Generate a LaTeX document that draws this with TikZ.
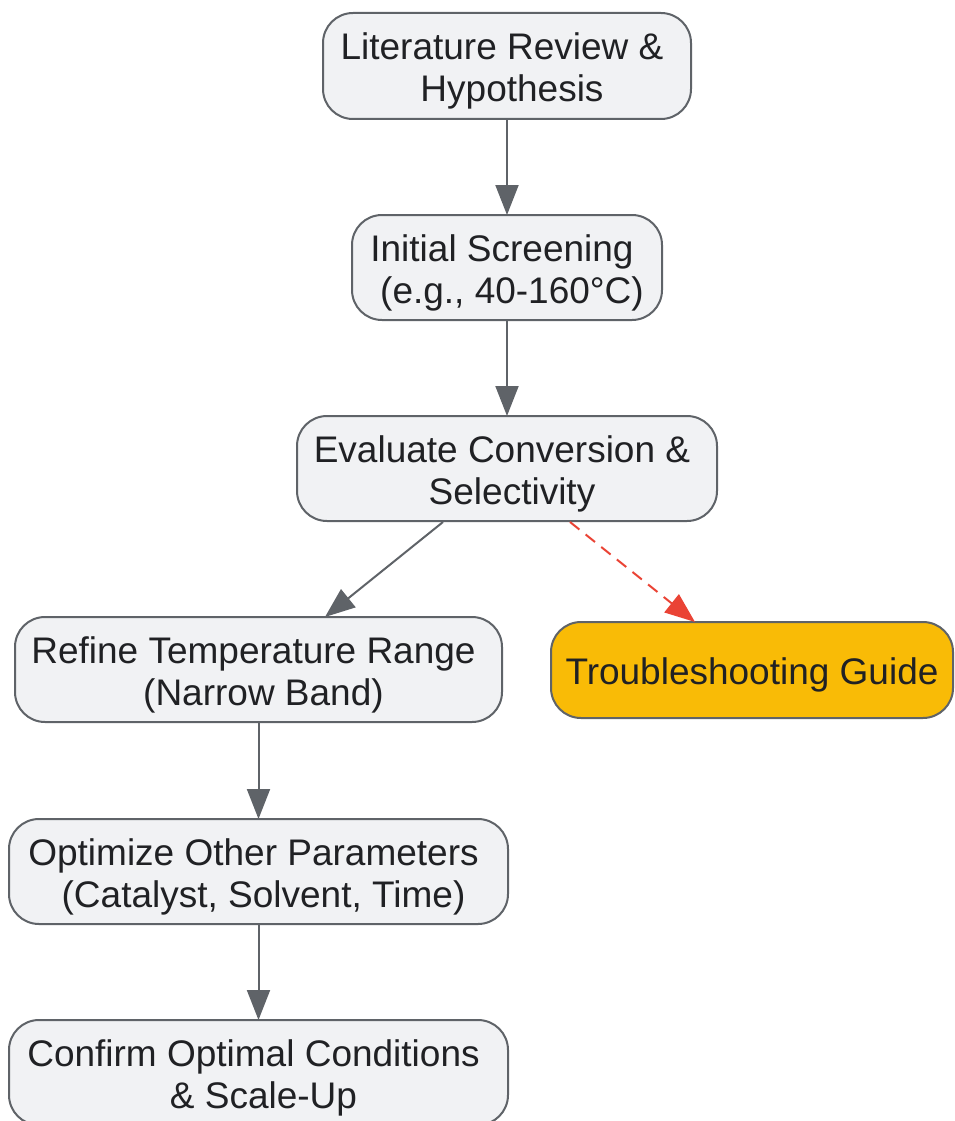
\documentclass[tikz,border=0pt]{standalone}
\usepackage{fontspec}
\setmainfont{Liberation Sans}
\usetikzlibrary{arrows.meta}
\definecolor{boxfill}{RGB}{241,242,244}
\definecolor{boxline}{RGB}{95,99,104}
\definecolor{txt}{RGB}{32,33,36}
\definecolor{warnfill}{RGB}{249,187,6}
\definecolor{warnred}{RGB}{234,67,53}
\newcommand{\tsp}{\hspace*{10pt}}
\begin{document}
\begin{tikzpicture}[x=1pt,y=-1pt,
  stepbox/.style={draw=boxline, fill=boxfill, line width=2pt, rounded corners=30pt,
    inner sep=0pt},
  warnbox/.style={stepbox, fill=warnfill},
  steptext/.style={label={[align=center, text=txt, inner sep=0pt, yshift=-5pt,
    font=\fontsize{37}{42}\selectfont]center:#1}},
  flow/.style={draw=boxline, line width=2pt, -{Triangle[length=30pt,width=23pt]}},
  warnflow/.style={draw=warnred, line width=2pt, dash pattern=on 12pt off 8pt,
    -{Triangle[length=30pt,width=23pt]}}
]
\useasboundingbox (0,0) rectangle (954,1121);
\node[stepbox, minimum width=368pt, minimum height=106pt,
  steptext={Literature Review \&\tsp\\\tsp Hypothesis}] (b1) at (507,66) {};
\node[stepbox, minimum width=310pt, minimum height=105pt,
  steptext={Initial Screening\tsp\\\tsp(e.g., 40-160°C)}] (b2) at (507,267.5) {};
\node[stepbox, minimum width=420pt, minimum height=105pt,
  steptext={Evaluate Conversion \&\tsp\\\tsp Selectivity}] (b3) at (507,468.5) {};
\node[stepbox, minimum width=487pt, minimum height=105pt,
  steptext={Refine Temperature Range\tsp\\\tsp(Narrow Band)}] (b4) at (258.5,669.5) {};
\node[warnbox, minimum width=402pt, minimum height=96pt,
  steptext={Troubleshooting Guide}] (b5) at (752,670) {};
\node[stepbox, minimum width=499pt, minimum height=105pt,
  steptext={Optimize Other Parameters\tsp\\\tsp(Catalyst, Solvent, Time)}] (b6) at (258.5,871.5) {};
\node[stepbox, minimum width=499pt, minimum height=105pt,
  steptext={Confirm Optimal Conditions\tsp\\\tsp\& Scale-Up}] (b7) at (258.5,1072.5) {};
\draw[flow] (b1.south) -- ([yshift=-1pt]b2.north);
\draw[flow] (b2.south) -- ([yshift=-1pt]b3.north);
\draw[flow] ([xshift=-64pt]b3.south) -- ([xshift=66.5pt,yshift=-1pt]b4.north);
\draw[warnflow] ([xshift=63pt]b3.south) -- ([xshift=-57pt,yshift=-1pt]b5.north);
\draw[flow] (b4.south) -- ([yshift=-1pt]b6.north);
\draw[flow] (b6.south) -- ([yshift=-1pt]b7.north);
\end{tikzpicture}
\end{document}
